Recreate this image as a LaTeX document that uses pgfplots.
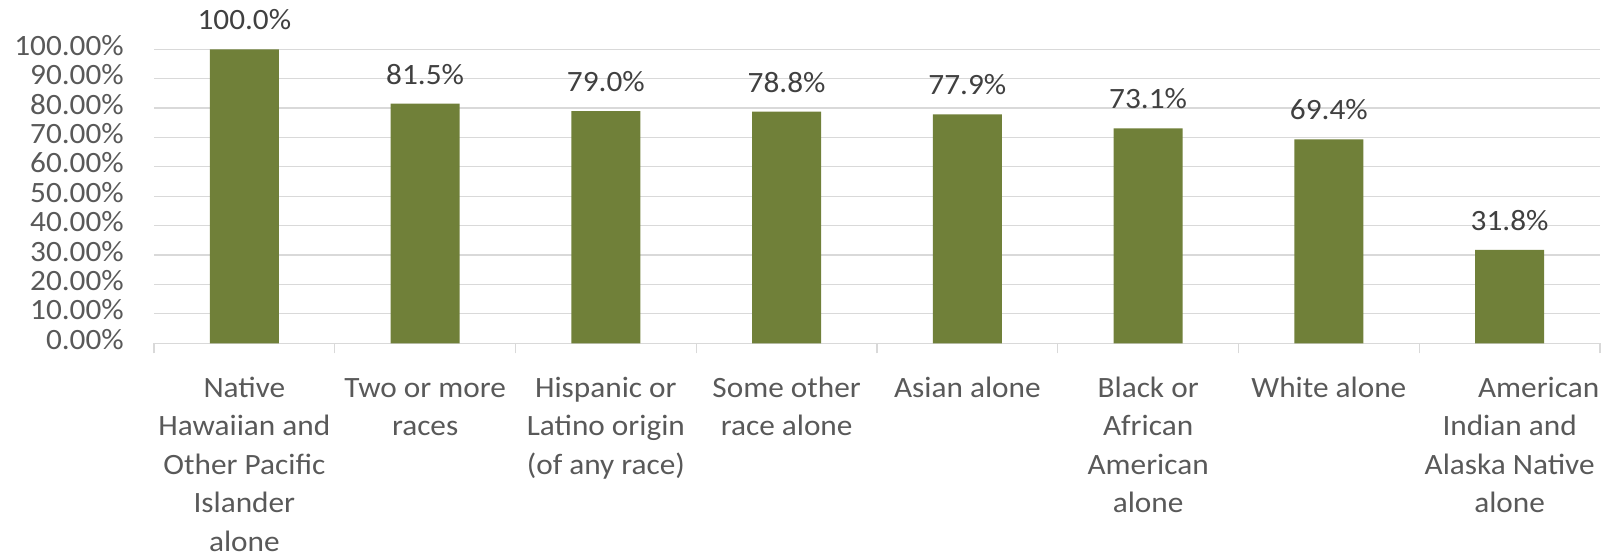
\documentclass[border=0pt]{standalone}
\usepackage{fontspec}
\setmainfont{Carlito}[FakeStretch=1.06]
\usepackage{pgfplots}
\pgfplotsset{compat=1.18}
\definecolor{barcol}{RGB}{112,128,57}
\definecolor{ticktext}{RGB}{89,89,89}
\definecolor{labtext}{RGB}{64,64,64}
\definecolor{gridcol}{RGB}{217,217,217}
\begin{document}
\begin{tikzpicture}
\path[use as bounding box] (0,0) rectangle (1624bp,554bp);
\begin{axis}[
  at={(154bp,210.7bp)}, anchor=south west,
  width=1446bp, height=294bp, scale only axis,
  xmin=-0.5, xmax=7.5, ymin=0, ymax=100,
  clip=false,
  /pgf/number format/assume math mode=true,
  axis x line*=bottom, axis y line*=left,
  x axis line style={draw=gridcol, line width=1.2bp},
  y axis line style={draw=none},
  ymajorgrids, grid style={draw=gridcol, line width=1.2bp},
  ytick={0,10,...,100},
  yticklabels={0.00\%,10.00\%,20.00\%,30.00\%,40.00\%,50.00\%,60.00\%,70.00\%,80.00\%,90.00\%,100.00\%},
  xtick={0,...,7},
  minor xtick={-0.5,0.5,...,7.5},
  major tick length=0pt,
  minor tick length=10bp,
  tick align=outside,
  minor x tick style={draw=gridcol, line width=1.2bp},
  major tick style={draw=none},
  yticklabel style={anchor=east, inner sep=0pt, xshift=-30bp, font=\fontsize{29.5bp}{30bp}\selectfont, text=ticktext},
  xticklabel style={anchor=north, inner sep=0pt, yshift=-27bp, align=center, font=\fontsize{29.5bp}{38.5bp}\selectfont, text=ticktext},
  xticklabels={
    {Native\\Hawaiian and\\Other Pacific\\Islander\\alone},
    {Two or more\\races},
    {Hispanic or\\Latino origin\\(of any race)},
    {Some other\\race alone},
    {Asian alone},
    {Black or\\African\\American\\alone},
    {White alone},
    {\hspace*{58bp}American\\Indian and\\Alaska Native\\alone}},
  typeset ticklabels with strut,
]
\addplot[ybar, bar width=69bp, fill=barcol, draw=none,
  nodes near coords={\pgfmathprintnumber[fixed,fixed zerofill,precision=1,assume math mode=true]{\pgfplotspointmeta}\%},
  nodes near coords style={anchor=base, inner sep=0pt, yshift=19.5bp, font=\fontsize{29.5bp}{30bp}\selectfont, text=labtext},
] coordinates {
  (0,100.0) (1,81.5) (2,79.0) (3,78.8) (4,77.9) (5,73.1) (6,69.4) (7,31.8)
};
\end{axis}
\end{tikzpicture}
\end{document}
